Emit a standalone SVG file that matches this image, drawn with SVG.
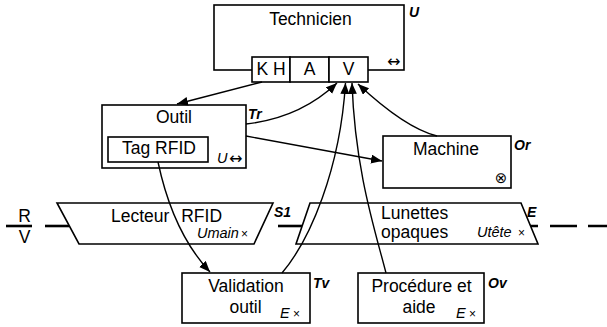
<svg xmlns="http://www.w3.org/2000/svg" width="607" height="327" viewBox="0 0 607 327">
<style>
text{font-family:"Liberation Sans",Arial,sans-serif;fill:#000}
.t{font-size:17.5px}
.c{text-anchor:middle}
.lb{font-size:14px;font-weight:bold;font-style:italic}
.it{font-size:14.5px;font-style:italic}
.x{font-size:12px}
.ar{font-family:"DejaVu Sans",sans-serif;font-size:16px}
.box{fill:#fff;stroke:#000;stroke-width:1.6}
.trk{fill:none;stroke:#000;stroke-width:2.6}
.con{fill:none;stroke:#000;stroke-width:1.4}
</style>
<defs>
<marker id="ah" markerUnits="userSpaceOnUse" markerWidth="12" markerHeight="10" refX="11" refY="4.5" orient="auto">
<path d="M0,0 L11,4.5 L0,9 z" fill="#000"/>
</marker>
</defs>

<g id="track">
<line class="trk" x1="6" y1="226" x2="32" y2="226"/>
<text class="t c" x="24.5" y="222">R</text>
<text class="t c" x="24.5" y="243">V</text>
<line class="trk" x1="45" y1="226" x2="69" y2="226"/>
<line class="trk" x1="278" y1="226" x2="302" y2="226"/>
<path class="trk" d="M530,226 H538 M550,226 H577 M588,226 H607"/>
</g>

<g id="technicien">
<rect class="box" x="214" y="5" width="190" height="65"/>
<text class="t c" x="310.5" y="25">Technicien</text>
<text class="lb" x="409" y="17">U</text>
<text class="ar" x="387" y="67">↔</text>
<rect class="box" x="252" y="57" width="38" height="25"/>
<rect class="box" x="290" y="57" width="39" height="25"/>
<rect class="box" x="329" y="57" width="39" height="25"/>
<text class="t c" x="271" y="75">K H</text>
<text class="t c" x="309.5" y="75">A</text>
<text class="t c" x="348.5" y="75">V</text>
</g>

<g id="outil">
<rect class="box" x="102" y="105" width="144" height="63"/>
<text class="t c" x="174" y="123">Outil</text>
<rect class="box" x="108" y="137" width="100" height="25"/>
<text class="t c" x="159" y="154">Tag RFID</text>
<text class="it" x="217" y="163">U</text>
<text class="ar" x="229" y="164">↔</text>
<text class="lb" x="248" y="119">Tr</text>
</g>

<g id="machine">
<rect class="box" x="383" y="136" width="128" height="52"/>
<text class="t c" x="446" y="155">Machine</text>
<text class="c" style="font-family:'DejaVu Sans',sans-serif;font-size:15px" x="501" y="183">⊗</text>
<text class="lb" x="514" y="150">Or</text>
</g>

<g id="lecteur">
<polygon class="box" points="57,203 273,203 254,244 79,244"/>
<text class="t" x="111" y="222" word-spacing="7">Lecteur RFID</text>
<text class="it" x="197" y="238">Umain</text>
<text class="x" x="241" y="238">×</text>
<text class="lb" x="274" y="217">S1</text>
</g>

<g id="lunettes">
<polygon class="box" points="310,203 521,203 538,244 296,244"/>
<text class="t" x="381" y="218.5">Lunettes</text>
<text class="t" x="381" y="238">opaques</text>
<text class="it" x="477" y="237">Utête</text>
<text class="x" x="518" y="237">×</text>
<text class="lb" x="527" y="217">E</text>
</g>

<g id="validation">
<rect class="box" x="182" y="273" width="128" height="50"/>
<text class="t c" x="246" y="292">Validation</text>
<text class="t c" x="245.5" y="313">outil</text>
<text class="it" x="280" y="318">E</text>
<text class="x" x="293" y="318">×</text>
<text class="lb" x="313" y="288">Tv</text>
</g>

<g id="procedure">
<rect class="box" x="358" y="273" width="126" height="50"/>
<text class="t c" x="421.5" y="292">Procédure et</text>
<text class="t c" x="419" y="313">aide</text>
<text class="it" x="456" y="318">E</text>
<text class="x" x="469" y="318">×</text>
<text class="lb" x="488" y="288">Ov</text>
</g>

<g id="connectors">
<path class="con" d="M262,82 L177,104" marker-end="url(#ah)"/>
<path class="con" d="M246,124 Q300,118 337,83" marker-end="url(#ah)"/>
<path class="con" d="M246,136 L382,161" marker-end="url(#ah)"/>
<path class="con" d="M437,136 Q405,128 358,84" marker-end="url(#ah)"/>
<path class="con" d="M282,273 C310,240 340,170 345.5,83" marker-end="url(#ah)"/>
<path class="con" d="M386,273 C375,230 355,170 352,83" marker-end="url(#ah)"/>
<path class="con" d="M158,162 C165,195 180,240 210,272" marker-end="url(#ah)"/>
</g>
</svg>
